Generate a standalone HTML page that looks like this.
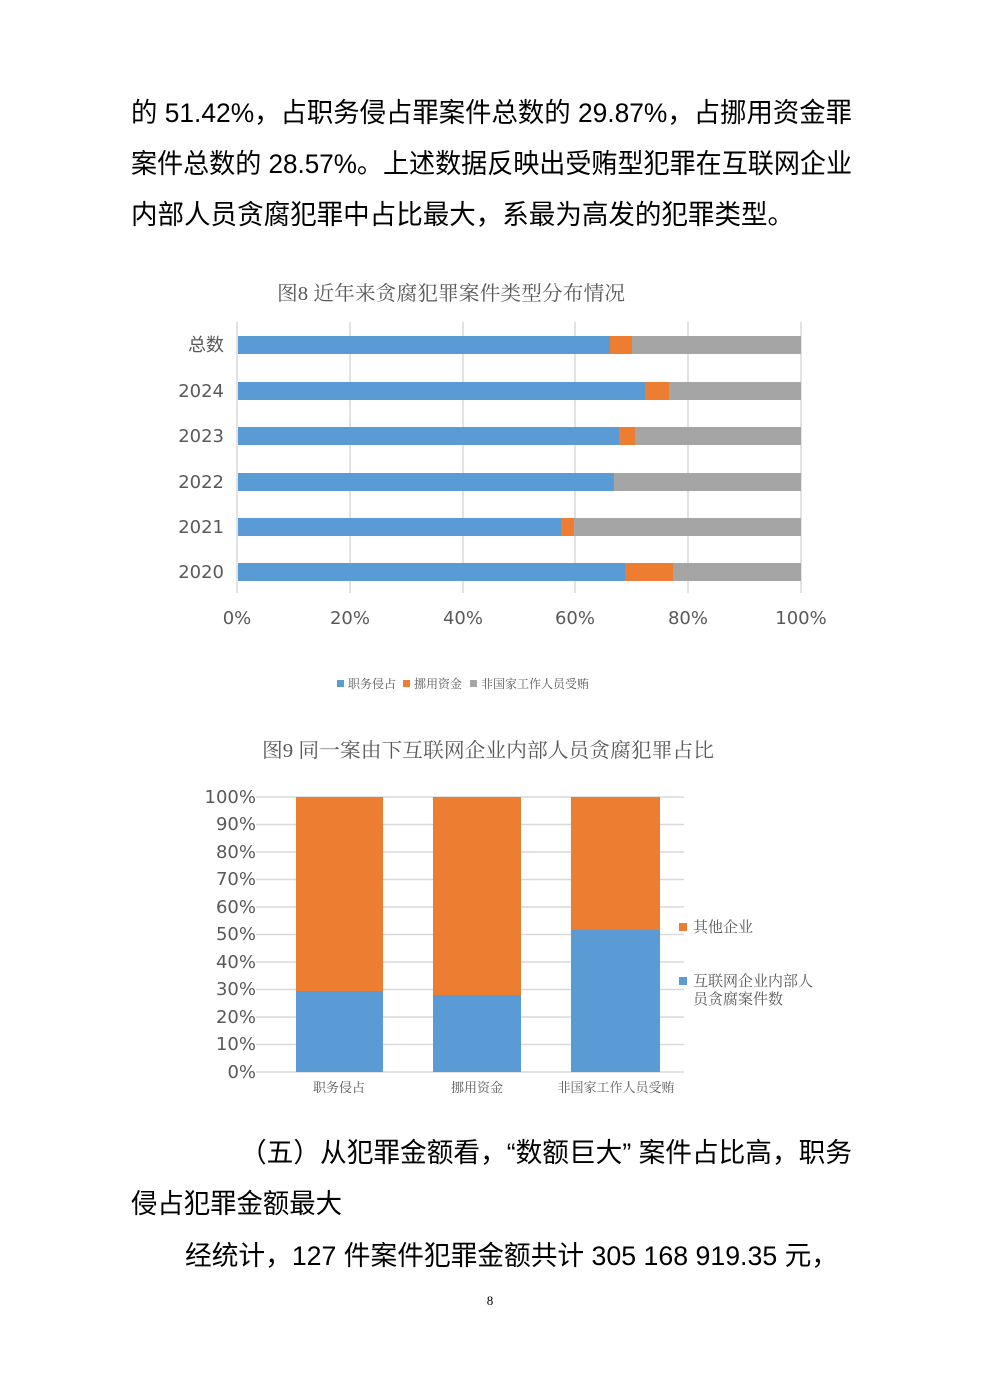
<!DOCTYPE html>
<html><head><meta charset="utf-8"><style>
html,body{margin:0;padding:0;background:#fff}
svg{display:block}
.b{font-family:"Liberation Sans","Noto Sans CJK SC",sans-serif;font-size:27px;fill:#000;font-weight:400}
.t{font-family:"Liberation Serif","Noto Serif CJK SC",serif;fill:#595959}
.a{font-family:"DejaVu Sans","Noto Sans CJK SC",sans-serif;fill:#595959}
</style></head><body>
<svg width="984" height="1392" xmlns="http://www.w3.org/2000/svg">
<text class="b" x="131" y="122" textLength="721" lengthAdjust="spacingAndGlyphs">的 51.42%，占职务侵占罪案件总数的 29.87%，占挪用资金罪</text>
<text class="b" x="131" y="173" textLength="721" lengthAdjust="spacingAndGlyphs">案件总数的 28.57%。上述数据反映出受贿型犯罪在互联网企业</text>
<text class="b" x="131" y="224" textLength="663" lengthAdjust="spacingAndGlyphs">内部人员贪腐犯罪中占比最大，系最为高发的犯罪类型。</text>

<text class="t" x="277" y="300" font-size="20" textLength="348" lengthAdjust="spacingAndGlyphs">图8 近年来贪腐犯罪案件类型分布情况</text>
<g stroke="#d9d9d9" stroke-width="1.5">
<line x1="237" y1="322" x2="237" y2="593"/><line x1="350" y1="322" x2="350" y2="593"/>
<line x1="463" y1="322" x2="463" y2="593"/><line x1="575" y1="322" x2="575" y2="593"/>
<line x1="688" y1="322" x2="688" y2="593"/><line x1="801" y1="322" x2="801" y2="593"/>
</g>
<g>
<rect x="238" y="336" width="372" height="18" fill="#5b9bd5"/><rect x="610" y="336" width="22" height="18" fill="#ed7d31"/><rect x="632" y="336" width="169" height="18" fill="#a5a5a5"/>
<rect x="238" y="382" width="407" height="18" fill="#5b9bd5"/><rect x="645" y="382" width="24" height="18" fill="#ed7d31"/><rect x="669" y="382" width="132" height="18" fill="#a5a5a5"/>
<rect x="238" y="427" width="381" height="18" fill="#5b9bd5"/><rect x="619" y="427" width="16" height="18" fill="#ed7d31"/><rect x="635" y="427" width="166" height="18" fill="#a5a5a5"/>
<rect x="238" y="473" width="376" height="18" fill="#5b9bd5"/><rect x="614" y="473" width="187" height="18" fill="#a5a5a5"/>
<rect x="238" y="518" width="323" height="18" fill="#5b9bd5"/><rect x="561" y="518" width="13" height="18" fill="#ed7d31"/><rect x="574" y="518" width="227" height="18" fill="#a5a5a5"/>
<rect x="238" y="563" width="387" height="18" fill="#5b9bd5"/><rect x="625" y="563" width="48" height="18" fill="#ed7d31"/><rect x="673" y="563" width="128" height="18" fill="#a5a5a5"/>
</g>
<g class="a" font-size="18" text-anchor="end">
<text x="224" y="351" font-family="Noto Sans CJK SC,sans-serif">总数</text>
<text x="224" y="397">2024</text><text x="224" y="442">2023</text><text x="224" y="488">2022</text>
<text x="224" y="533">2021</text><text x="224" y="578">2020</text>
</g>
<g class="a" font-size="18" text-anchor="middle">
<text x="237" y="624">0%</text><text x="350" y="624">20%</text><text x="463" y="624">40%</text>
<text x="575" y="624">60%</text><text x="688" y="624">80%</text><text x="801" y="624">100%</text>
</g>
<rect x="337" y="680" width="7" height="7" fill="#5b9bd5"/>
<text class="t" x="348" y="688" font-size="12">职务侵占</text>
<rect x="403" y="680" width="7" height="7" fill="#ed7d31"/>
<text class="t" x="414" y="688" font-size="12">挪用资金</text>
<rect x="470" y="680" width="7" height="7" fill="#a5a5a5"/>
<text class="t" x="481" y="688" font-size="12">非国家工作人员受贿</text>

<text class="t" x="262" y="757" font-size="20" textLength="452" lengthAdjust="spacingAndGlyphs">图9 同一案由下互联网企业内部人员贪腐犯罪占比</text>
<g stroke="#d9d9d9" stroke-width="1.5">
<line x1="256" y1="797" x2="684" y2="797"/><line x1="256" y1="824.5" x2="684" y2="824.5"/>
<line x1="256" y1="852" x2="684" y2="852"/><line x1="256" y1="879.5" x2="684" y2="879.5"/>
<line x1="256" y1="907" x2="684" y2="907"/><line x1="256" y1="934.5" x2="684" y2="934.5"/>
<line x1="256" y1="962" x2="684" y2="962"/><line x1="256" y1="989.5" x2="684" y2="989.5"/>
<line x1="256" y1="1017" x2="684" y2="1017"/><line x1="256" y1="1044.5" x2="684" y2="1044.5"/>
<line x1="256" y1="1072" x2="684" y2="1072"/>
</g>
<rect x="296" y="797" width="87" height="194" fill="#ed7d31"/><rect x="296" y="991" width="87" height="81" fill="#5b9bd5"/>
<rect x="433" y="797" width="88" height="198" fill="#ed7d31"/><rect x="433" y="995" width="88" height="77" fill="#5b9bd5"/>
<rect x="571" y="797" width="89" height="133" fill="#ed7d31"/><rect x="571" y="930" width="89" height="142" fill="#5b9bd5"/>
<g class="a" font-size="18" text-anchor="end">
<text x="256" y="803">100%</text><text x="256" y="830">90%</text><text x="256" y="858">80%</text>
<text x="256" y="885">70%</text><text x="256" y="913">60%</text><text x="256" y="940">50%</text>
<text x="256" y="968">40%</text><text x="256" y="995">30%</text><text x="256" y="1023">20%</text>
<text x="256" y="1050">10%</text><text x="256" y="1078">0%</text>
</g>
<g class="t" font-size="13" text-anchor="middle">
<text x="339" y="1092">职务侵占</text><text x="477" y="1092">挪用资金</text><text x="616" y="1092">非国家工作人员受贿</text>
</g>
<rect x="679" y="923" width="8" height="8" fill="#ed7d31"/>
<text class="t" x="693" y="932" font-size="15">其他企业</text>
<rect x="679" y="977" width="8" height="8" fill="#5b9bd5"/>
<text class="t" x="693" y="986" font-size="15">互联网企业内部人</text>
<text class="t" x="693" y="1004" font-size="15">员贪腐案件数</text>

<text class="b" x="240" y="1162" textLength="612" lengthAdjust="spacingAndGlyphs">（五）从犯罪金额看，“数额巨大” 案件占比高，职务</text>
<text class="b" x="131" y="1213" textLength="211" lengthAdjust="spacingAndGlyphs">侵占犯罪金额最大</text>
<text class="b" x="185" y="1265" textLength="653" lengthAdjust="spacingAndGlyphs">经统计，127 件案件犯罪金额共计 305  168  919.35 元，</text>
<text x="490" y="1305" font-family="Liberation Serif,serif" font-size="13" text-anchor="middle">8</text>
</svg>
</body></html>
